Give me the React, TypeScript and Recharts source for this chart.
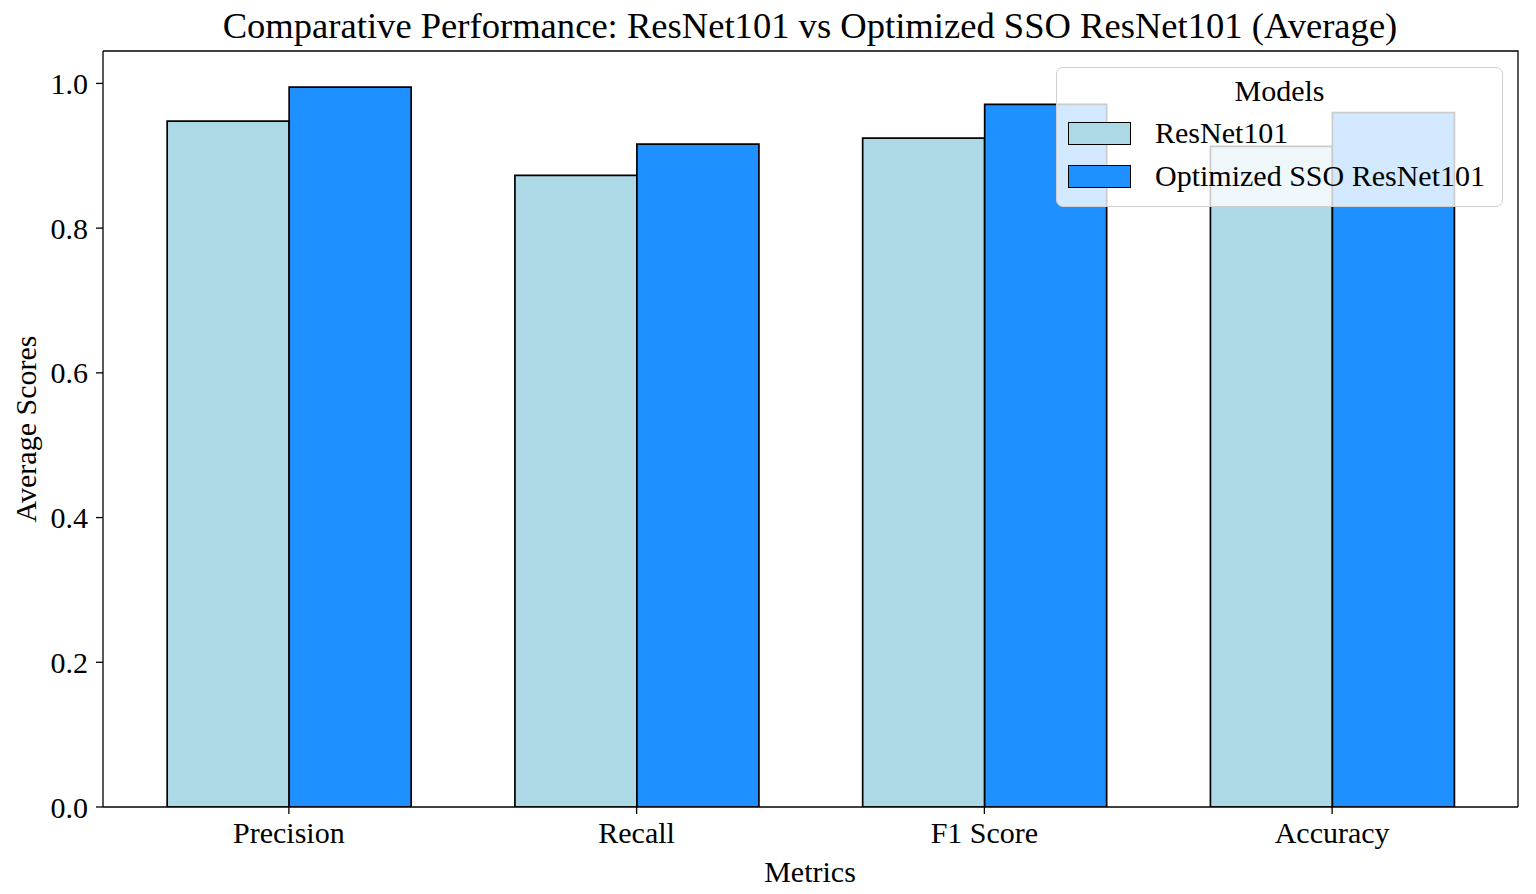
import { BarChart, Bar, XAxis, YAxis } from 'recharts';

const categories = ['Precision', 'Recall', 'F1 Score', 'Accuracy'];
const resnetScores = [0.948, 0.873, 0.9245, 0.913];
const ssoScores = [0.995, 0.916, 0.971, 0.9595];
const yTicks = [0, 0.2, 0.4, 0.6, 0.8, 1.0];

const series = [
  { key: 'resnet', name: 'ResNet101', color: '#add8e6' },
  { key: 'sso', name: 'Optimized SSO ResNet101', color: '#1e90ff' },
];

const data = categories.map((metric, i) => ({
  metric,
  resnet: resnetScores[i],
  sso: ssoScores[i],
}));

const FONT = '"Liberation Serif", "Times New Roman", serif';
const tickStyle = { fill: '#000', fontSize: 30, fontFamily: FONT };

// plot box (matches chart margins below)
const PLOT = { left: 103, top: 51, right: 1518, bottom: 807 };

export default function App() {
  return (
    <div style={{ position: 'absolute', left: 0, top: 0, width: 1536, height: 894, background: '#fff', fontFamily: FONT }}>
      <BarChart
        width={1536}
        height={894}
        data={data}
        margin={{ top: PLOT.top, right: 1536 - PLOT.right, left: 0, bottom: 0 }}
        barCategoryGap="15%"
        barGap={0}
      >
        <XAxis
          dataKey="metric"
          height={894 - PLOT.bottom}
          padding={{ left: 12, right: 12 }}
          tick={tickStyle}
          tickSize={7}
          tickMargin={8}
          axisLine={{ stroke: '#000', strokeWidth: 1.3 }}
          tickLine={{ stroke: '#000', strokeWidth: 1.3 }}
          label={{
            content: () => (
              <text x={810} y={882} textAnchor="middle" fontSize={30} fontFamily={FONT} fill="#000">
                Metrics
              </text>
            ),
          }}
        />
        <YAxis
          width={PLOT.left}
          domain={[0, 1.0448]}
          ticks={yTicks}
          allowDataOverflow
          tickFormatter={(v: number) => v.toFixed(1)}
          tick={tickStyle}
          tickSize={7}
          tickMargin={8}
          axisLine={{ stroke: '#000', strokeWidth: 1.3 }}
          tickLine={{ stroke: '#000', strokeWidth: 1.3 }}
          label={{
            content: () => (
              <text
                x={36}
                y={429}
                textAnchor="middle"
                fontSize={30}
                fontFamily={FONT}
                fill="#000"
                transform="rotate(-90 36 429)"
              >
                Average Scores
              </text>
            ),
          }}
        />
        {series.map(s => (
          <Bar
            key={s.key}
            dataKey={s.key}
            name={s.name}
            fill={s.color}
            stroke="#000"
            strokeWidth={1.7}
            isAnimationActive={false}
          />
        ))}
      </BarChart>

      {/* title and the top/right spines */}
      <svg width={1536} height={894} style={{ position: 'absolute', left: 0, top: 0, pointerEvents: 'none' }}>
        <text x={810} y={38} textAnchor="middle" fontSize={36.6} fontFamily={FONT} fill="#000">
          Comparative Performance: ResNet101 vs Optimized SSO ResNet101 (Average)
        </text>
        <polyline
          points={`${PLOT.left},${PLOT.top} ${PLOT.right},${PLOT.top} ${PLOT.right},${PLOT.bottom}`}
          fill="none"
          stroke="#000"
          strokeWidth={1.3}
        />
      </svg>

      {/* legend, drawn over the plot like matplotlib's framed legend */}
      <div
        style={{
          position: 'absolute',
          left: 1056,
          top: 67,
          width: 447,
          height: 140,
          boxSizing: 'border-box',
          background: 'rgba(255,255,255,0.8)',
          border: '1.5px solid #d0d0d0',
          borderRadius: 7,
          color: '#000',
          fontSize: 30,
          lineHeight: 1,
        }}
      >
        <div style={{ position: 'absolute', left: 0, right: 0, top: 8, textAlign: 'center' }}>Models</div>
        {series.map((s, i) => (
          <div key={s.key} style={{ position: 'absolute', left: 11, top: 50 + i * 43, display: 'flex', alignItems: 'center' }}>
            <span
              style={{
                display: 'inline-block',
                width: 63,
                height: 23,
                boxSizing: 'border-box',
                background: s.color,
                border: '1.5px solid #000',
              }}
            />
            <span style={{ marginLeft: 24 }}>{s.name}</span>
          </div>
        ))}
      </div>
    </div>
  );
}
